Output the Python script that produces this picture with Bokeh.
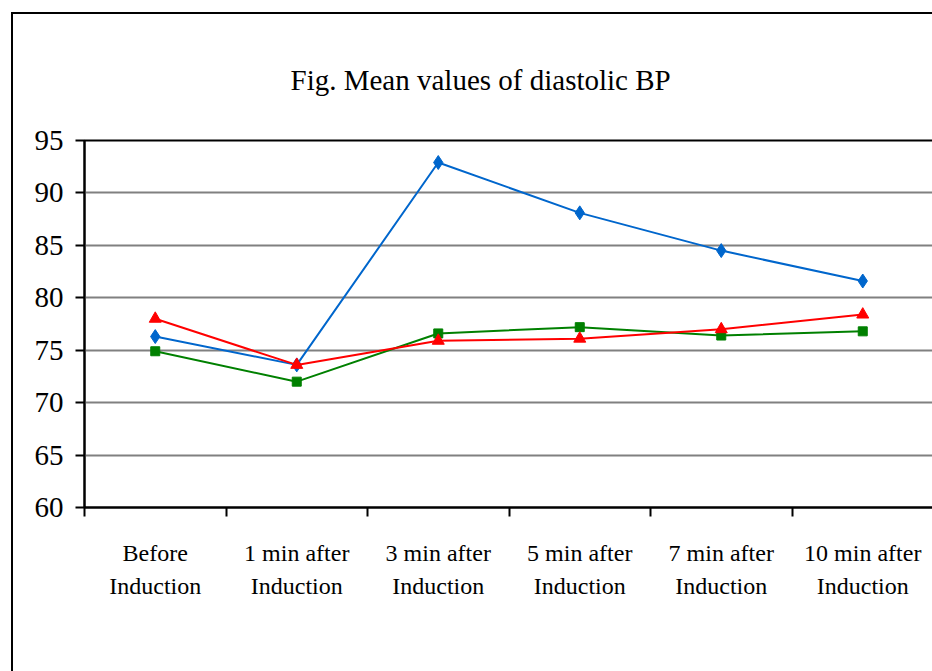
from bokeh.plotting import figure
from bokeh.models import Range1d, FixedTicker, Legend, LegendItem, LinearAxis
from bokeh.embed import file_html
from bokeh.resources import INLINE

categories = ["Before\nInduction", "1 min after\nInduction", "3 min after\nInduction",
              "5 min after\nInduction", "7 min after\nInduction", "10 min after\nInduction"]
group_a = [76.3, 73.6, 92.9, 88.1, 84.5, 81.6]
group_b = [74.9, 72.0, 76.6, 77.2, 76.4, 76.8]
group_c = [78.0, 73.6, 75.9, 76.1, 77.0, 78.4]
y_ticks = [60, 65, 70, 75, 80, 85, 90, 95]
title_text = "Fig. Mean values of diastolic BP"

xs = list(range(1, len(categories) + 1))
line1 = [c.split("\n")[0] for c in categories]
line2 = [c.split("\n")[1] for c in categories]
FONT = "Liberation Serif"

p = figure(frame_width=849, frame_height=367, x_range=Range1d(0.5, 6.5), y_range=Range1d(60, 95),
           output_backend="svg", toolbar_location=None,
           min_border_left=71, min_border_right=0, min_border_top=126, min_border_bottom=190,
           styles={"margin-left": "11px", "margin-top": "12px",
                   "border-left": "2px solid black", "border-top": "2px solid black"})

p.title.text = title_text
p.title.align = "left"
p.title.offset = 206
p.title.standoff = 90
p.title.text_font = FONT
p.title.text_font_size = "29px"
p.title.text_font_style = "normal"
p.title.text_color = "black"

p.outline_line_color = "black"
p.outline_line_width = 2

# x axis: first line of category labels, ticks between categories
xa = p.xaxis[0]
xa.ticker = FixedTicker(ticks=xs, minor_ticks=[x - 0.5 for x in xs] + [xs[-1] + 0.5])
xa.major_label_overrides = {x: t for x, t in zip(xs, line1)}
xa.major_tick_out = 0
xa.major_tick_in = 0
xa.minor_tick_out = 9
xa.minor_tick_in = 0
xa.minor_tick_line_color = "black"
xa.minor_tick_line_width = 2
xa.axis_line_color = "black"
xa.axis_line_width = 2
xa.major_label_text_font = FONT
xa.major_label_text_font_size = "24px"
xa.major_label_text_color = "black"
xa.major_label_standoff = 23

# second line of category labels
xa2 = LinearAxis(ticker=FixedTicker(ticks=xs, minor_ticks=[]),
                 major_label_overrides={x: t for x, t in zip(xs, line2)},
                 axis_line_color=None, major_tick_line_color=None, minor_tick_line_color=None,
                 major_tick_out=0, major_tick_in=0, minor_tick_out=0, minor_tick_in=0,
                 major_label_text_font=FONT, major_label_text_font_size="24px",
                 major_label_text_color="black", major_label_standoff=4)
p.add_layout(xa2, "below")

# y axis
ya = p.yaxis[0]
ya.ticker = FixedTicker(ticks=y_ticks)
ya.major_tick_out = 9
ya.major_tick_in = 0
ya.minor_tick_out = 0
ya.minor_tick_in = 0
ya.major_tick_line_color = "black"
ya.major_tick_line_width = 2
ya.axis_line_color = "black"
ya.axis_line_width = 2
ya.major_label_text_font = FONT
ya.major_label_text_font_size = "29px"
ya.major_label_text_color = "black"
ya.major_label_standoff = 12

p.xgrid.visible = False
p.ygrid.ticker = FixedTicker(ticks=y_ticks)
p.ygrid.grid_line_color = "#808080"
p.ygrid.grid_line_width = 2

series = [
    ("Group A", group_a, "#0066CC", "diamond", 14),
    ("Group B", group_b, "#008000", "square", 9),
    ("Group C", group_c, "#FF0000", "triangle", 12),
]
items = []
for name, vals, color, marker, size in series:
    l = p.line(xs, vals, line_color=color, line_width=2)
    s = p.scatter(xs, vals, marker=marker, size=size, fill_color=color, line_color=color)
    items.append(LegendItem(label=name, renderers=[l, s]))

legend = Legend(items=items, orientation="horizontal", location=(143, 33),
                label_text_font=FONT, label_text_font_size="28px", label_text_color="black",
                glyph_width=46, glyph_height=20, spacing=12, padding=8, margin=33,
                label_standoff=10, border_line_color="black", border_line_width=2,
                border_line_alpha=1,
                background_fill_color="white", background_fill_alpha=1)
p.add_layout(legend, "below")

open("out.html", "w").write(file_html(p, INLINE))
